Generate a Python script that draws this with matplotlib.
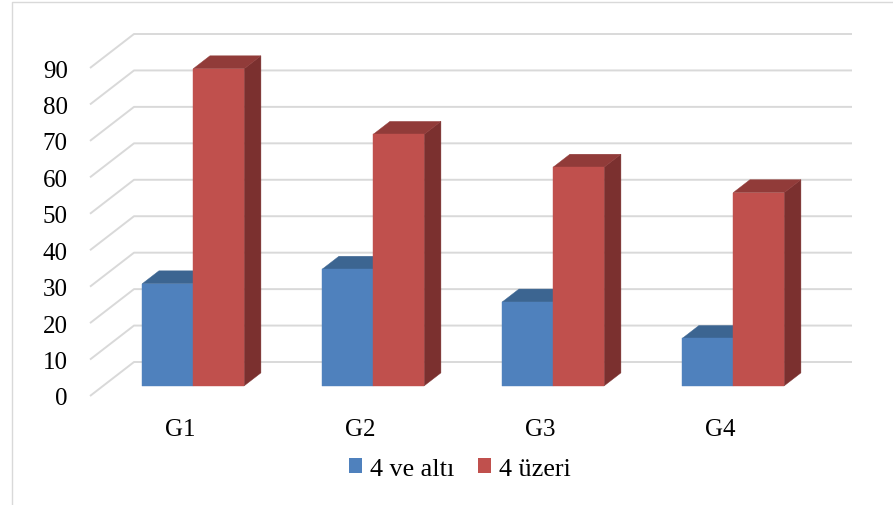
import matplotlib
matplotlib.use('Agg')
import matplotlib.pyplot as plt
from matplotlib.patches import Polygon, Patch
from matplotlib.lines import Line2D

categories = ['G1', 'G2', 'G3', 'G4']
series_names = ['4 ve altı', '4 üzeri']
values_low = [28, 32, 23, 13]
values_high = [87, 69, 60, 53]
y_ticks = [0, 10, 20, 30, 40, 50, 60, 70, 80, 90]

plt.rcParams['font.family'] = ['Liberation Serif', 'DejaVu Serif']

W, H = 893, 506
fig = plt.figure(figsize=(W / 100, H / 100), dpi=100)
fig.patch.set_facecolor('white')

ax = fig.add_axes([90 / W, (H - 397) / H, 720 / W, 328 / H])
ax.set_xlim(-0.5, 3.5)
ax.set_ylim(0, 90)
for sp in ax.spines.values():
    sp.set_visible(False)
ax.set_facecolor('none')

# oblique depth offsets (full floor depth) in data units
px_per_x = 720 / 4.0
px_per_v = 328 / 90.0
DX = 44 / px_per_x
DV = 34 / px_per_v

grid_col = '#d9d9d9'
x_left, x_right = -0.5, 3.5 + DX - 2 / px_per_x
for v in y_ticks:
    ax.plot([x_left, x_left + DX, x_right], [v, v + DV, v + DV],
            color=grid_col, lw=1.4, clip_on=False, zorder=1,
            solid_capstyle='butt')

bar_w = 51 / px_per_x
f0, f1 = 0.30, 0.68
bx = (f1 - f0) * DX
by = (f1 - f0) * DV

colors = [
    dict(front='#4f81bd', top='#3c6591', side='#375c86'),
    dict(front='#c0504d', top='#913b39', side='#7b302f'),
]


def draw_bar(x0, x1, h, c, z):
    fx0 = x0 + f0 * DX
    fx1 = x1 + f0 * DX
    fy = f0 * DV
    side = [(fx1, fy), (fx1 + bx, fy + by), (fx1 + bx, fy + h + by), (fx1, fy + h)]
    top = [(fx0, fy + h), (fx1, fy + h), (fx1 + bx, fy + h + by), (fx0 + bx, fy + h + by)]
    front = [(fx0, fy), (fx1, fy), (fx1, fy + h), (fx0, fy + h)]
    for pts, col in ((side, c['side']), (top, c['top']), (front, c['front'])):
        ax.add_patch(Polygon(pts, closed=True, facecolor=col, edgecolor=col,
                             lw=0.3, clip_on=False, zorder=z))


for i in range(len(categories)):
    draw_bar(i - bar_w, i, values_low[i], colors[0], 3)
    draw_bar(i, i + bar_w, values_high[i], colors[1], 4)

ax.set_yticks(y_ticks)
ax.set_yticklabels([str(t) for t in y_ticks])
ax.set_xticks(range(len(categories)))
ax.set_xticklabels(categories)
ax.tick_params(axis='y', length=0, pad=16, labelsize=18, labelcolor='black')
ax.tick_params(axis='x', length=0, pad=16, labelsize=18, labelcolor='black')

handles = [Patch(facecolor=colors[0]['front']), Patch(facecolor=colors[1]['front'])]
fig.legend(handles, series_names, loc='center',
           bbox_to_anchor=(460 / W, 1 - 470 / H), ncol=2, frameon=False,
           fontsize=18.8, handlelength=0.5, handleheight=0.5,
           handletextpad=0.3, columnspacing=0.9, borderpad=0, borderaxespad=0)

fig.add_artist(Line2D([12 / W, 12 / W, 1.0], [0.0, 1 - 3 / H, 1 - 3 / H],
                      transform=fig.transFigure, color='#d9d9d9', lw=1.0))

fig.savefig('out.png', dpi=100)
